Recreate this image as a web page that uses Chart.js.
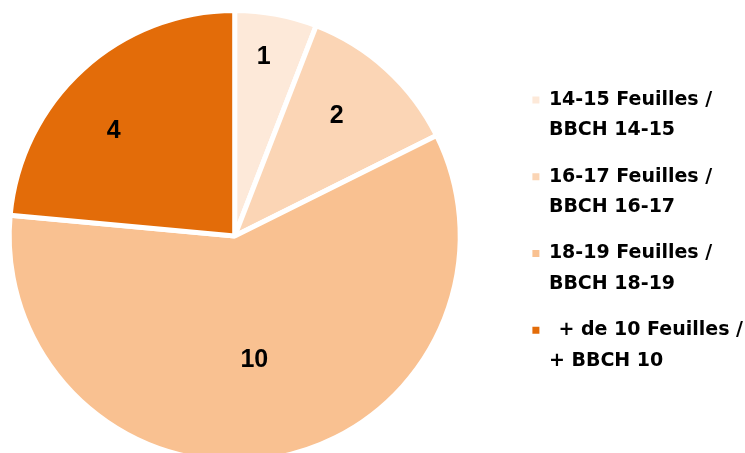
<!DOCTYPE html>
<html>
<head>
<meta charset="utf-8">
<script src="https://cdn.jsdelivr.net/npm/chart.js@4/dist/chart.umd.min.js"></script>
<style>
  html, body { margin: 0; padding: 0; background: #ffffff; overflow: hidden; }
  #wrap { width: 745px; height: 453px; overflow: hidden; position: relative; }
  canvas { display: block; position: absolute; left: -47px; top: 0; }
</style>
</head>
<body>
<div id="wrap"><canvas id="c" width="800" height="490"></canvas></div>
<script>
// ---- data ----
const categories = [
  ["14-15 Feuilles /", "BBCH 14-15"],
  ["16-17 Feuilles /", "BBCH 16-17"],
  ["18-19 Feuilles /", "BBCH 18-19"],
  ["\u2002+ de 10 Feuilles /", "+ BBCH 10"]
];
const values = [1, 2, 10, 4];
const sliceColors = ["#FDE9D9", "#FBD5B5", "#F9C191", "#E36C09"];

// ---- value labels inside slices ----
const sliceLabels = {
  id: 'sliceLabels',
  afterDatasetsDraw(chart, args, opts) {
    const ctx = chart.ctx;
    const meta = chart.getDatasetMeta(0);
    const ds = chart.data.datasets[0];
    ctx.save();
    ctx.font = opts.font;
    ctx.fillStyle = opts.color;
    ctx.textAlign = 'center';
    ctx.textBaseline = 'middle';
    meta.data.forEach((arc, i) => {
      const p = arc.getProps(['x', 'y', 'startAngle', 'endAngle', 'outerRadius'], true);
      const mid = (p.startAngle + p.endAngle) / 2 + opts.angleShift[i] * Math.PI / 180;
      const f = opts.radial[i];
      ctx.fillText(String(ds.data[i]), p.x + Math.cos(mid) * p.outerRadius * f,
                   p.y + Math.sin(mid) * p.outerRadius * f);
    });
    ctx.restore();
  }
};

const defaultGen = Chart.overrides.pie.plugins.legend.labels.generateLabels;

new Chart(document.getElementById('c'), {
  type: 'pie',
  data: {
    labels: categories,
    datasets: [{
      data: values,
      backgroundColor: sliceColors,
      borderColor: '#ffffff',
      borderWidth: 5,
      hoverOffset: 0
    }]
  },
  plugins: [sliceLabels],
  options: {
    responsive: false,
    animation: false,
    events: [],
    layout: { padding: { top: 8, bottom: 26, left: 0, right: 0 } },
    plugins: {
      tooltip: { enabled: false },
      legend: {
        position: 'right',
        align: 'center',
        labels: {
          color: '#000000',
          boxWidth: 7,
          boxHeight: 7,
          padding: 16,
          font: { family: "'DejaVu Sans'", weight: 'bold', size: 19, lineHeight: 1.6 },
          generateLabels(chart) {
            return defaultGen(chart).map(it => Object.assign(it, { lineWidth: 0, strokeStyle: it.fillStyle }));
          }
        }
      },
      sliceLabels: {
        font: "bold 25px 'Liberation Sans'",
        color: '#000000',
        radial: [0.804, 0.698, 0.557, 0.71],
        angleShift: [-1.4, -2.0, 1.6, -6.7]
      }
    }
  }
});
</script>
</body>
</html>
